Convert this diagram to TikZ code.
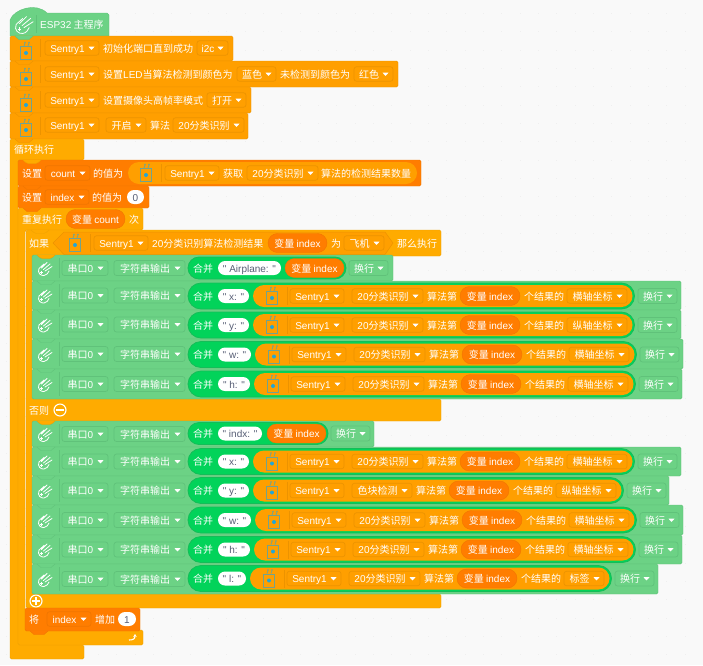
\documentclass[tikz,border=0pt]{standalone}
\usepackage{fontspec}
\setmainfont{Noto Sans CJK SC}
\newfontfamily\latfont{Liberation Sans}
\newcommand{\lat}[1]{{\latfont #1}}
\usetikzlibrary{arrows.meta,shapes.misc}

\definecolor{pagegrey}{HTML}{F9F9F9}
\definecolor{pagedot}{HTML}{EFEFEF}
\definecolor{stackorange}{HTML}{FF9F00}
\definecolor{stackedge}{HTML}{EC9300}
\definecolor{loopgold}{HTML}{FFAB00}
\definecolor{loopedge}{HTML}{F0A200}
\definecolor{varorange}{HTML}{FF7D00}
\definecolor{varedge}{HTML}{F07600}
\definecolor{iogreen}{HTML}{6CD285}
\definecolor{ioedge}{HTML}{60C27A}
\definecolor{joingreen}{HTML}{02D35A}
\definecolor{joinedge}{HTML}{14BD58}
\definecolor{slate}{HTML}{575E75}
\definecolor{iconline}{HTML}{72A38E}
\definecolor{icondot}{HTML}{22A6D8}

% a node between two x values, and the same with a dropdown caret
\newcommand{\pill}[6]{\node[#1, minimum width={((#4)-(#3))*1pt}] (#2) at ({((#3)+(#4))/2},{#5}) {#6};}
\newcommand{\drop}[6]{\pill{#1}{#2}{#3}{#4}{#5}{#6\kern9pt}
    \fill[white] ({#4-10.5},{#5-1.3}) -- ++(6,0) -- ++(-3,3.2) -- cycle;}
% notch under a block
\newcommand{\tabdown}[3]{\draw[#1] ({#2+5},#3) -- ({#2+9},{#3+3.5}) -- ({#2+19},{#3+3.5}) -- ({#2+23},#3);}
% sentry part of a reporter: icon, line, first dropdown
\newcommand{\sentryhead}[4]{\pic at ({#2},{#3+2}) {sentry};
    \draw[#4] ({#2+15},{#3-9}) -- ({#2+15},{#3+9});}

% green block with its head
\newcommand{\ioblock}[4]{\draw[ioblk, rounded corners=1.5pt] (32,#2) rectangle (#4,#3);
    \tabdown{ioblk}{32}{#2}
    \pic at (45,{(#2+#3)/2+1}) {comet};
    \draw[iosep] (59,{#2+3}) -- (59,{#3-3});
    \drop{dropG}{#1p}{62}{108}{(#2+#3)/2}{串口\lat{0}}
    \drop{dropG}{#1f}{114}{185}{(#2+#3)/2}{字符串输出}}
% merge of a string and a variable
\newcommand{\iovar}[6]{\pill{joinpill,minimum height=22pt}{#1j}{188}{#6+2}{#2}{}
    \node[lbl] (#1h) at (193,#2) {合并};
    \pill{strpill}{#1s}{218}{#4}{#2}{\lat{" #3 "}}
    \pill{varpill}{#1v}{#5}{#6}{#2}{变量 \lat{index}}
    \drop{dropG}{#1n}{#6+5}{#6+44}{#2}{换行}}
% merge of a string and a sentry reporter
\newcommand{\iocall}[9]{\pgfmathsetmacro\xa{#3+99}\pgfmathsetmacro\xb{\xa+#7}\pgfmathsetmacro\xe{\xb+144+#9}
    \pill{joinpill}{#1j}{188}{\xe+7.5}{#2}{}
    \node[lbl] (#1h) at (193,#2) {合并};
    \pill{strpill}{#1s}{218}{#5}{#2}{\lat{" #4 "}}
    \pill{callpill}{#1c}{#3}{\xe+5.5}{#2}{}
    \sentryhead{#1i}{#3+19}{#2}{orsep}
    \drop{dropO}{#1e}{#3+37}{#3+91}{#2}{\lat{Sentry1}}
    \drop{dropO}{#1a}{\xa}{\xb}{#2}{#6}
    \node[lbl] (#1t) at ({\xb+4},#2) {算法第};
    \pill{varpill}{#1v}{\xb+37}{\xb+97}{#2}{变量 \lat{index}}
    \node[lbl] (#1r) at ({\xb+101},#2) {个结果的};
    \drop{dropO}{#1k}{\xb+144}{\xe}{#2}{#8}
    \drop{dropG}{#1n}{\xe+11}{\xe+50}{#2}{换行}}

\begin{document}
\begin{tikzpicture}
        [x=1pt, y=-1pt, font=\fontsize{10pt}{10pt}\selectfont,
        stackblk/.style={fill=stackorange, draw=stackedge, line width=0.4pt},
        varblk/.style={fill=varorange, draw=varedge, line width=0.4pt},
        loopblk/.style={fill=loopgold, draw=loopedge, line width=0.4pt, rounded corners=1.5pt},
        ioblk/.style={fill=iogreen, draw=ioedge, line width=0.4pt},
        lbl/.style={anchor=west, inner sep=0pt, text=white, text height=8.4pt, text depth=0pt},
        field/.style={inner sep=0pt, text=white, text height=8.4pt, text depth=0pt, line width=0.7pt, rounded corners=2.5pt},
        dropO/.style={field, draw=stackedge, fill=stackorange, minimum height=14.5pt},
        dropV/.style={field, draw=varedge, fill=varorange, minimum height=14.5pt},
        dropG/.style={field, draw=ioedge, fill=iogreen, minimum height=15pt},
        roundfield/.style={rounded rectangle, inner sep=0pt, text height=8.4pt, text depth=0pt},
        strpill/.style={roundfield, fill=white, text=slate, minimum height=14pt},
        varpill/.style={roundfield, fill=varorange, draw=varedge, line width=0.4pt, text=white, minimum height=19pt},
        joinpill/.style={roundfield, fill=joingreen, draw=joinedge, line width=0.8pt, minimum height=26pt},
        callpill/.style={roundfield, fill=stackorange, minimum height=22pt},
        orsep/.style={stackedge, line width=0.7pt},
        iosep/.style={ioedge, line width=0.7pt},
        roundbtn/.style={circle, draw=white, line width=1.1pt, minimum size=12pt, inner sep=0pt},
        comet/.pic={
            \draw[white, line width=0.8pt, line cap=round]
                (-6,-0.5) -- (-1,-5) (-3.5,-1) -- (2,-6.5) (-1.5,0.5) -- (5,-5) (0,2) -- (7,-2.5)
                (-6,-0.5) .. controls (-8,4) and (-4,7) .. (-1,6.5) .. controls (2,6) and (3,4) .. (4,2);
            \draw[white, line width=0.6pt] (-5,3) -- (-2,3) (-3.5,1.5) -- (-3.5,4.5);},
        sentry/.pic={
            \draw[iconline, line width=0.7pt] (-5.5,-6.5) rectangle (5.5,6.5);
            \fill[icondot] (0,0) circle (2pt);
            \draw[iconline, line width=0.7pt] (-2,-7) -- (-1,-10) (2,-7) -- (3,-10);
            \fill[iconline] (-1,-10.5) circle (0.9pt) (3,-10.5) circle (0.9pt);}]

        \useasboundingbox (0,0) rectangle (703,665);
        \fill[pagegrey] (0,0) rectangle (703,665);
        \foreach \i in {0,...,37} \foreach \j in {0,...,35}
            \fill[pagedot] ({6.8+18.33*\i-0.5},{13.4+18.33*\j-0.5}) rectangle ++(1,1);

        % hat
        \draw[ioblk] (10,36) -- (10,20) .. controls (14,9) and (36,2) .. (47,13)
            -- (107,13) -- (109,15) -- (109,36) -- cycle;
        \pic[scale=1.3] at (24,25) {comet};
        \draw[iosep] (36,15) -- (36,33);
        \node[lbl] (hat) at (40,24) {\lat{ESP32} 主程序};

        % setup blocks
        \draw[stackblk, rounded corners=1.5pt] (10,36) rectangle (233,61);
        \tabdown{ioblk}{10}{36}
        \draw[stackblk, rounded corners=1.5pt] (10,61) rectangle (398,87);
        \tabdown{stackblk}{10}{61}
        \draw[stackblk, rounded corners=1.5pt] (10,87) rectangle (251,113);
        \tabdown{stackblk}{10}{87}
        \draw[stackblk, rounded corners=1.5pt] (10,113) rectangle (248,139);
        \tabdown{stackblk}{10}{113}

        \pic at (26,53) {sentry};
        \draw[orsep] (40,39) -- (40,57);
        \drop{dropO}{inits}{45}{99}{48}{\lat{Sentry1}}
        \node[lbl] (initt) at (103,48) {初始化端口直到成功};
        \drop{dropO}{initp}{197}{228}{48}{\lat{i2c}}

        \pic at (26,79) {sentry};
        \draw[orsep] (40,65) -- (40,83);
        \drop{dropO}{leds}{45}{99}{74}{\lat{Sentry1}}
        \node[lbl] (ledt) at (103,74) {设置\lat{LED}当算法检测到颜色为};
        \drop{dropO}{leda}{237}{276}{74}{蓝色}
        \node[lbl] (ledu) at (280,74) {未检测到颜色为};
        \drop{dropO}{ledb}{354}{393}{74}{红色}

        \pic at (26,105) {sentry};
        \draw[orsep] (40,91) -- (40,109);
        \drop{dropO}{cams}{45}{99}{100}{\lat{Sentry1}}
        \node[lbl] (camt) at (103,100) {设置摄像头高帧率模式};
        \drop{dropO}{camm}{207}{246}{100}{打开}

        \pic at (26,130) {sentry};
        \draw[orsep] (40,117) -- (40,135);
        \drop{dropO}{algs}{45}{99}{125}{\lat{Sentry1}}
        \drop{dropO}{algo}{106}{146}{125}{开启}
        \node[lbl] (algt) at (150,125) {算法};
        \drop{dropO}{alga}{173}{244}{125}{\lat{20}分类识别}

        % forever loop
        \draw[loopblk] (10,139) -- (84,139) -- (84,160) -- (18,160) -- (18,645) -- (84,645)
            -- (84,659) -- (10,659) -- cycle;
        \tabdown{stackblk}{10}{139}
        \node[lbl] (loopt) at (14,149) {循环执行};

        % set count
        \draw[varblk, rounded corners=1.5pt] (18,160) rectangle (421,186);
        \tabdown{loopblk}{18}{160}
        \node[lbl] (cntt) at (22,173) {设置};
        \drop{dropV}{cntv}{45}{90}{173}{\lat{count}}
        \node[lbl] (cntu) at (93,173) {的值为};
        \pill{callpill}{cntc}{128}{417}{173}{}
        \sentryhead{cnti}{146}{173}{orsep}
        \drop{dropO}{cnts}{165}{219}{173}{\lat{Sentry1}}
        \node[lbl] (cntg) at (223,173) {获取};
        \drop{dropO}{cnta}{247}{318}{173}{\lat{20}分类识别}
        \node[lbl] (cntr) at (321,173) {算法的检测结果数量};

        % set index
        \draw[varblk, rounded corners=1.5pt] (18,186) rectangle (149,208);
        \tabdown{varblk}{18}{186}
        \node[lbl] (idxt) at (22,197) {设置};
        \drop{dropV}{idxv}{45}{89}{197}{\lat{index}}
        \node[lbl] (idxu) at (92,197) {的值为};
        \pill{strpill}{idxn}{127}{144}{197}{\lat{0}}

        % repeat loop
        \draw[loopblk] (18,208) -- (143,208) -- (143,230) -- (25,230) -- (25,630) -- (143,630)
            -- (143,645) -- (18,645) -- cycle;
        \tabdown{varblk}{18}{208}
        \node[lbl] (rept) at (22,219) {重复执行};
        \pill{varpill}{repv}{66}{125}{219}{变量 \lat{count}}
        \node[lbl] (repu) at (129,219) {次};
        \draw[white, line width=1.1pt, -{Stealth[length=3pt,width=3.5pt]}] (129,640) .. controls (133,640) and (135,639) .. (135,634);

        % if else
        \draw[loopblk] (26,230) -- (441,230) -- (441,256) -- (32,256) -- (32,399) -- (441,399)
            -- (441,421) -- (32,421) -- (32,594) -- (441,594) -- (441,608) -- (26,608) -- cycle;
        \tabdown{loopblk}{26}{230}
        \node[lbl] (ift) at (29,243) {如果};
        \draw[fill=stackorange, draw=stackedge, line width=0.5pt] (53,243) -- (64,232) -- (385,232) -- (393,243) -- (385,254.5) -- (64,254.5) -- cycle;
        \sentryhead{ifi}{75}{243}{orsep}
        \drop{dropO}{ifs}{94}{148}{243}{\lat{Sentry1}}
        \node[lbl] (ifr) at (152,243) {\lat{20}分类识别算法检测结果};
        \pill{varpill}{ifv}{268}{327}{243}{变量 \lat{index}}
        \node[lbl] (ifw) at (331,243) {为};
        \drop{dropO}{ifa}{344}{384}{243}{飞机}
        \node[lbl] (ifn) at (397,243) {那么执行};
        \node[lbl] (elset) at (29,410) {否则};
        \node[roundbtn] (elseb) at (60,410) {};
        \draw[white, line width=1.1pt] ([xshift=2.5pt]elseb.west) -- ([xshift=-2.5pt]elseb.east);
        \node[roundbtn] (addb) at (36,601) {};
        \draw[white, line width=1.1pt] ([xshift=2.5pt]addb.west) -- ([xshift=-2.5pt]addb.east);
        \draw[white, line width=1.1pt] ([yshift=-2.5pt]addb.north) -- ([yshift=2.5pt]addb.south);

        % then branch
        \ioblock{a1}{255}{281}{393}
        \tabdown{loopblk}{32}{255}
        \iovar{a1}{268}{\lat{Airplane:}}{281}{285}{344}
        \ioblock{a2}{281}{310}{681}
        \iocall{a2}{296}{253}{x:}{249}{\lat{20}分类识别}{71}{横轴坐标}{60}
        \ioblock{a3}{310}{339}{681}
        \iocall{a3}{325}{253}{y:}{249}{\lat{20}分类识别}{71}{纵轴坐标}{60}
        \ioblock{a4}{339}{369}{683}
        \iocall{a4}{354.5}{255}{w:}{251}{\lat{20}分类识别}{71}{横轴坐标}{60}
        \ioblock{a5}{369}{399}{682}
        \iocall{a5}{384}{254}{h:}{250}{\lat{20}分类识别}{71}{横轴坐标}{60}

        % else branch
        \ioblock{b1}{421}{447}{374}
        \tabdown{loopblk}{32}{421}
        \iovar{b1}{433.5}{\lat{indx:}}{262}{267}{326}
        \ioblock{b2}{447}{476}{681}
        \iocall{b2}{461.5}{253}{x:}{249}{\lat{20}分类识别}{71}{横轴坐标}{60}
        \ioblock{b3}{476}{505}{669}
        \iocall{b3}{490.5}{253}{y:}{249}{色块检测}{60}{纵轴坐标}{60}
        \ioblock{b4}{505}{535}{683}
        \iocall{b4}{520}{255}{w:}{251}{\lat{20}分类识别}{71}{横轴坐标}{60}
        \ioblock{b5}{535}{564}{682}
        \iocall{b5}{549.5}{254}{h:}{250}{\lat{20}分类识别}{71}{横轴坐标}{60}
        \ioblock{b6}{564}{594}{658}
        \iocall{b6}{578.5}{250}{l:}{246}{\lat{20}分类识别}{71}{标签}{40}

        % increase index
        \draw[varblk, rounded corners=1.5pt] (25,608) rectangle (140,631);
        \tabdown{varblk}{25}{631}
        \node[lbl] (inct) at (29,619) {将};
        \drop{dropV}{incv}{47}{91}{619}{\lat{index}}
        \node[lbl] (incu) at (95,619) {增加};
        \pill{strpill}{incn}{118}{136}{619}{\lat{1}}
\end{tikzpicture}
\end{document}
